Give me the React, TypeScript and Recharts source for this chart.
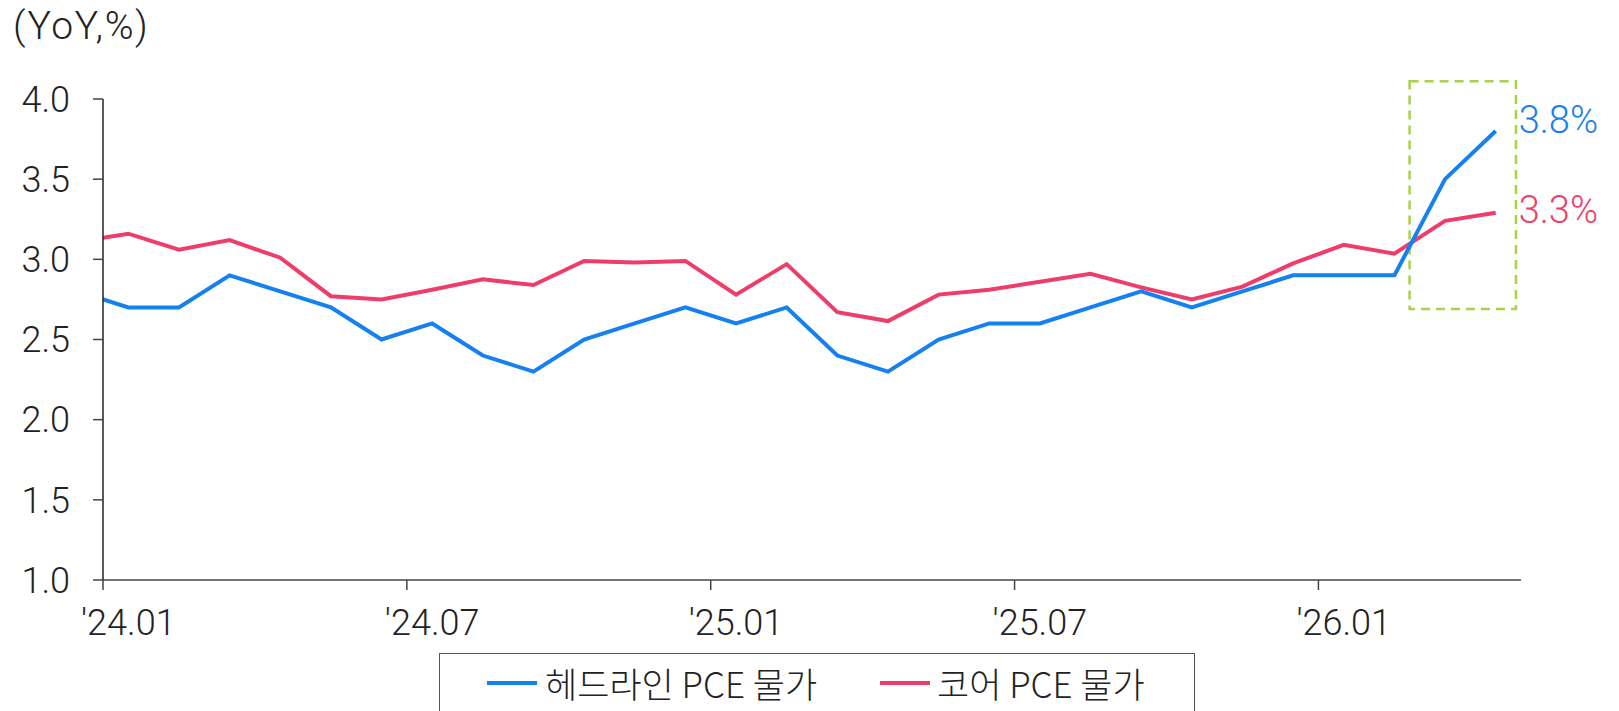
import { LineChart, Line, XAxis, YAxis, ReferenceArea, Legend, LabelList } from 'recharts';

// months from '23.12 (clipped at the left edge) to '26.04
const months = [
  '23.12',
  '24.01', '24.02', '24.03', '24.04', '24.05', '24.06', '24.07', '24.08', '24.09', '24.10', '24.11', '24.12',
  '25.01', '25.02', '25.03', '25.04', '25.05', '25.06', '25.07', '25.08', '25.09', '25.10', '25.11', '25.12',
  '26.01', '26.02', '26.03', '26.04',
];

const headline = [
  2.8,
  2.7, 2.7, 2.9, 2.8, 2.7, 2.5, 2.6, 2.4, 2.3, 2.5, 2.6, 2.7,
  2.6, 2.7, 2.4, 2.3, 2.5, 2.6, 2.6, 2.7, 2.8, 2.7, 2.8, 2.9,
  2.9, 2.9, 3.5, 3.8,
];

const core = [
  3.11,
  3.16, 3.06, 3.12, 3.01, 2.77, 2.75, 2.81, 2.875, 2.84, 2.99, 2.98, 2.99,
  2.78, 2.97, 2.67, 2.615, 2.78, 2.81, 2.86, 2.91, 2.825, 2.75, 2.83, 2.975,
  3.09, 3.035, 3.24, 3.29,
];

const xTicks = [0, 6, 12, 18, 24];
const xTickLabels = ["'24.01", "'24.07", "'25.01", "'25.07", "'26.01"];
const yTicks = [1.0, 1.5, 2.0, 2.5, 3.0, 3.5, 4.0];

const lastLabels = ['3.8%', '3.3%'];

// month index -> position in the middle of the month
const data = months.map((m, i) => ({ month: m, x: i - 0.5, headline: headline[i], core: core[i] }));
const lastIndex = data.length - 1;

const BLUE = '#1580F0';
const RED = '#EE3D68';
const GREEN = '#A9D14B';
const TEXT = '#222';
const NUM_FONT = 'Roboto, "Noto Sans", sans-serif';
const KR_FONT = '"Noto Sans CJK KR", "Noto Sans", sans-serif';

const XTick = (props: any) => {
  const { x, y, payload } = props;
  const idx = xTicks.indexOf(payload.value);
  return (
    <text x={x + 25.3} y={y + 25} textAnchor="middle" fill={TEXT} fontSize={36} fontFamily={NUM_FONT} fontWeight={300}>
      {xTickLabels[idx]}
    </text>
  );
};

const endLabel = (text: string, color: string, dy: number) => (props: any) => {
  const { x, y, index } = props;
  if (index !== lastIndex) return null;
  return (
    <text x={x + 23} y={y + dy} fill={color} fontSize={38} fontFamily={NUM_FONT} fontWeight={300}>
      {text}
    </text>
  );
};

const renderLegend = () => (
  <div
    style={{
      boxSizing: 'border-box',
      position: 'relative',
      width: 756,
      height: 70,
      border: '1.5px solid #555',
      fontFamily: KR_FONT,
      fontSize: 35,
      fontWeight: 300,
      color: TEXT,
    }}
  >
    <div style={{ position: 'absolute', left: 47, top: 0, height: 58, display: 'flex', alignItems: 'center' }}>
      <span style={{ display: 'inline-block', width: 50, height: 4, background: BLUE, marginRight: 8 }} />
      <span>헤드라인 PCE 물가</span>
    </div>
    <div style={{ position: 'absolute', left: 440, top: 0, height: 58, display: 'flex', alignItems: 'center' }}>
      <span style={{ display: 'inline-block', width: 50, height: 4, background: RED, marginRight: 7 }} />
      <span>코어 PCE 물가</span>
    </div>
  </div>
);

export default function App() {
  return (
    <div style={{ margin: '-8px 0 0 -8px' }}>
      <LineChart width={1619} height={728} data={data} margin={{ top: 99, right: 98, left: 23, bottom: 6 }}>
        <XAxis
          dataKey="x"
          type="number"
          domain={[0, 28]}
          ticks={xTicks}
          allowDataOverflow
          height={72}
          tickSize={10}
          tickMargin={20}
          tick={<XTick />}
          axisLine={{ stroke: '#444', strokeWidth: 1.5 }}
          tickLine={{ stroke: '#444', strokeWidth: 1.5 }}
        />
        <YAxis
          type="number"
          domain={[1, 4]}
          ticks={yTicks}
          width={80}
          tickSize={10}
          tickMargin={23}
          tickFormatter={(v: number) => v.toFixed(1)}
          tick={{ fill: TEXT, fontSize: 36, fontFamily: NUM_FONT, fontWeight: 300 }}
          axisLine={{ stroke: '#222', strokeWidth: 1.5 }}
          tickLine={{ stroke: '#444', strokeWidth: 1.5 }}
          label={{
            content: (p: any) => {
              const vb = p.viewBox || { x: 23, y: 99 };
              return (
                <text x={vb.x - 10} y={vb.y - 60} fill={TEXT} fontSize={39} fontFamily={NUM_FONT} fontWeight={300} letterSpacing={1.6}>
                  (YoY,%)
                </text>
              );
            },
          }}
        />
        <Legend verticalAlign="bottom" content={renderLegend} wrapperStyle={{ left: 439, top: 652.5, width: 756, height: 70 }} />
        <Line
          type="linear"
          dataKey="core"
          stroke={RED}
          strokeWidth={4}
          dot={false}
          activeDot={false}
          isAnimationActive={false}
        >
          <LabelList dataKey="core" content={endLabel(lastLabels[1], RED, 10)} />
        </Line>
        <Line
          type="linear"
          dataKey="headline"
          stroke={BLUE}
          strokeWidth={4}
          dot={false}
          activeDot={false}
          isAnimationActive={false}
        >
          <LabelList dataKey="headline" content={endLabel(lastLabels[0], BLUE, 2)} />
        </Line>
        <ReferenceArea
          x1={25.8}
          x2={27.9}
          y1={2.69}
          y2={4.11}
          ifOverflow="visible"
          fill="none"
          fillOpacity={0}
          stroke={GREEN}
          strokeWidth={2.5}
          strokeDasharray="9 6"
        />
      </LineChart>
    </div>
  );
}
